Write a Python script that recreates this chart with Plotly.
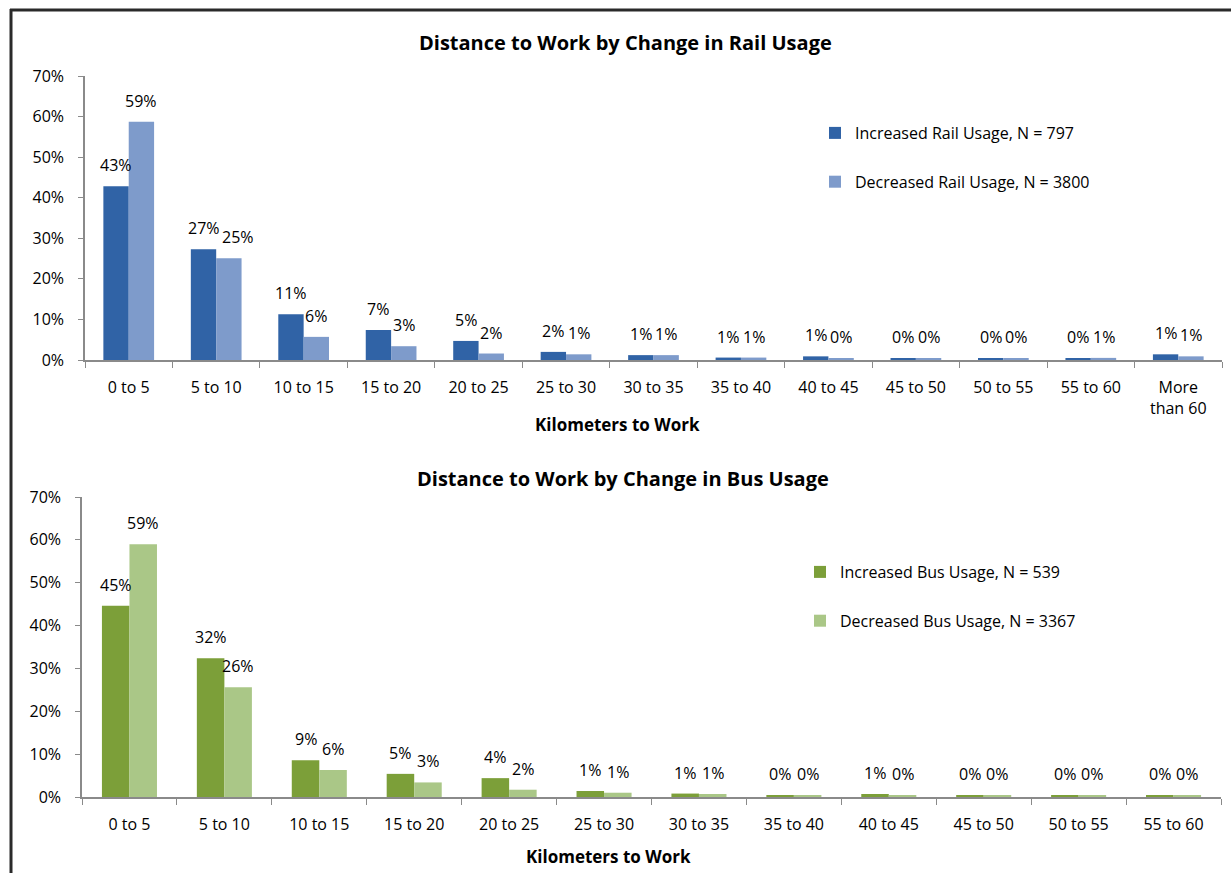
import plotly.graph_objects as go

# Distance bands (km)
rail_categories = ["0 to 5", "5 to 10", "10 to 15", "15 to 20", "20 to 25", "25 to 30",
                   "30 to 35", "35 to 40", "40 to 45", "45 to 50", "50 to 55", "55 to 60",
                   "More<br>than 60"]
bus_categories = ["0 to 5", "5 to 10", "10 to 15", "15 to 20", "20 to 25", "25 to 30",
                  "30 to 35", "35 to 40", "40 to 45", "45 to 50", "50 to 55", "55 to 60"]

# Share of respondents in each band
rail_increased = [0.428, 0.273, 0.113, 0.074, 0.047, 0.020, 0.012, 0.006, 0.009,
                  0.004, 0.004, 0.004, 0.014]
rail_decreased = [0.587, 0.251, 0.057, 0.034, 0.016, 0.014, 0.012, 0.006, 0.004,
                  0.004, 0.004, 0.0052, 0.009]
bus_increased = [0.446, 0.324, 0.086, 0.054, 0.044, 0.014, 0.008, 0.004, 0.007,
                 0.004, 0.004, 0.004]
bus_decreased = [0.590, 0.256, 0.063, 0.034, 0.017, 0.010, 0.007, 0.004, 0.004,
                 0.004, 0.004, 0.004]

rail_inc_name = "Increased Rail Usage, N = 797"
rail_dec_name = "Decreased Rail Usage, N = 3800"
bus_inc_name = "Increased Bus Usage, N = 539"
bus_dec_name = "Decreased Bus Usage, N = 3367"

FONT = "'Open Sans', sans-serif"
W, H = 1231, 873
BARGAP = 0.42
HALF = (1 - BARGAP) / 4  # offset of each bar centre from its category centre
LABEL_SIZE = 16


def px(y):
    return 1 - y / H


def label_width(text):
    # approximate rendered width of a percentage label in pixels
    digits = sum(c.isdigit() for c in text)
    return LABEL_SIZE * (0.572 * digits + 0.84)


def bar(x, y, name, color, xa, ya, legend, group):
    return go.Bar(
        x=x, y=y, name=name, marker=dict(color=color, line=dict(width=0)),
        xaxis=xa, yaxis=ya, legend=legend, legendgroup=group,
        hovertemplate="%{x}: %{y:.1%}<extra>" + name + "</extra>",
    )


fig = go.Figure()
fig.add_trace(bar(rail_categories, rail_increased, rail_inc_name, "#3063a6", "x", "y", "legend", "ri"))
fig.add_trace(bar(rail_categories, rail_decreased, rail_dec_name, "#7e9bcb", "x", "y", "legend", "rd"))
fig.add_trace(bar(bus_categories, bus_increased, bus_inc_name, "#7c9f39", "x2", "y2", "legend2", "bi"))
fig.add_trace(bar(bus_categories, bus_decreased, bus_dec_name, "#aac787", "x2", "y2", "legend2", "bd"))

# value labels above each bar; the right-hand label slides over when the pair would collide
for inc, dec, xref, yref, plot_w, px_per_unit in [
    (rail_increased, rail_decreased, "x", "y", 1222 - 85, (360 - 76) / 0.7),
    (bus_increased, bus_decreased, "x2", "y2", 1221 - 82, (797 - 497) / 0.7),
]:
    bar_w = plot_w / len(inc) * (1 - BARGAP) / 2
    for i, (a, b) in enumerate(zip(inc, dec)):
        ta, tb = f"{a:.0%}", f"{b:.0%}"
        shift = 0
        if abs(a - b) * px_per_unit < 16:
            shift = max(0.0, (label_width(ta) + label_width(tb)) / 2 + 3 - bar_w)
        for v, t, side, xs in [(a, ta, -1, 0), (b, tb, 1, shift)]:
            fig.add_annotation(x=i + side * HALF, y=v, xref=xref, yref=yref,
                               text=t, showarrow=False, xanchor="center",
                               yanchor="bottom", yshift=8, xshift=xs,
                               font=dict(size=LABEL_SIZE, family=FONT, color="#000000"))

axis_line = "#8a8a8a"
tick_font = dict(size=16, color="#000000", family=FONT)
xcommon = dict(type="category", showline=True, linecolor=axis_line, linewidth=1.5,
               ticks="outside", tickson="boundaries", ticklen=6, tickcolor=axis_line,
               tickfont=tick_font, ticklabelstandoff=12, showgrid=False,
               zeroline=False, automargin=False)
ycommon = dict(range=[0, 0.7], dtick=0.1, tickformat=".0%", showline=True,
               linecolor=axis_line, linewidth=1.5, ticks="outside", ticklen=5,
               tickcolor=axis_line, tickfont=tick_font, ticklabelstandoff=11,
               showgrid=False, zeroline=False, automargin=False)

fig.update_layout(
    width=W, height=H,
    margin=dict(l=0, r=0, t=0, b=0, pad=0),
    paper_bgcolor="white", plot_bgcolor="white",
    font=dict(family=FONT, color="#000000"),
    barmode="group", bargap=BARGAP, bargroupgap=0,
    xaxis=dict(domain=[85 / W, 1222 / W], anchor="y", **xcommon),
    yaxis=dict(domain=[px(360), px(76)], anchor="x", **ycommon),
    xaxis2=dict(domain=[82 / W, 1221 / W], anchor="y2", **xcommon),
    yaxis2=dict(domain=[px(797), px(497)], anchor="x2", **ycommon),
    legend=dict(x=815 / W, y=px(116), xanchor="left", yanchor="top",
                font=dict(size=16, family=FONT), traceorder="grouped",
                tracegroupgap=25, bgcolor="rgba(0,0,0,0)"),
    legend2=dict(x=800 / W, y=px(555), xanchor="left", yanchor="top",
                 font=dict(size=16, family=FONT), traceorder="grouped",
                 tracegroupgap=25, bgcolor="rgba(0,0,0,0)"),
    showlegend=True,
)

# chart titles and axis titles
for text, x, y, size in [
    ("<b>Distance to Work by Change in Rail Usage</b>", 625, 42, 20),
    ("<b>Distance to Work by Change in Bus Usage</b>", 623, 478, 20),
    ("<b>Kilometers to Work</b>", 617, 424, 17),
    ("<b>Kilometers to Work</b>", 608, 856, 17),
]:
    fig.add_annotation(text=text, x=x / W, y=px(y), xref="paper", yref="paper",
                       xanchor="center", yanchor="middle", showarrow=False,
                       font=dict(size=size, family=FONT, color="#000000"))

# chart frame (top and left edges)
fig.add_shape(type="line", xref="paper", yref="paper", x0=10 / W, x1=1, y0=px(10), y1=px(10),
              line=dict(color="#2a2a2a", width=3))
fig.add_shape(type="line", xref="paper", yref="paper", x0=11 / W, x1=11 / W, y0=px(9), y1=0,
              line=dict(color="#2a2a2a", width=3))

fig.write_html("out.html")
